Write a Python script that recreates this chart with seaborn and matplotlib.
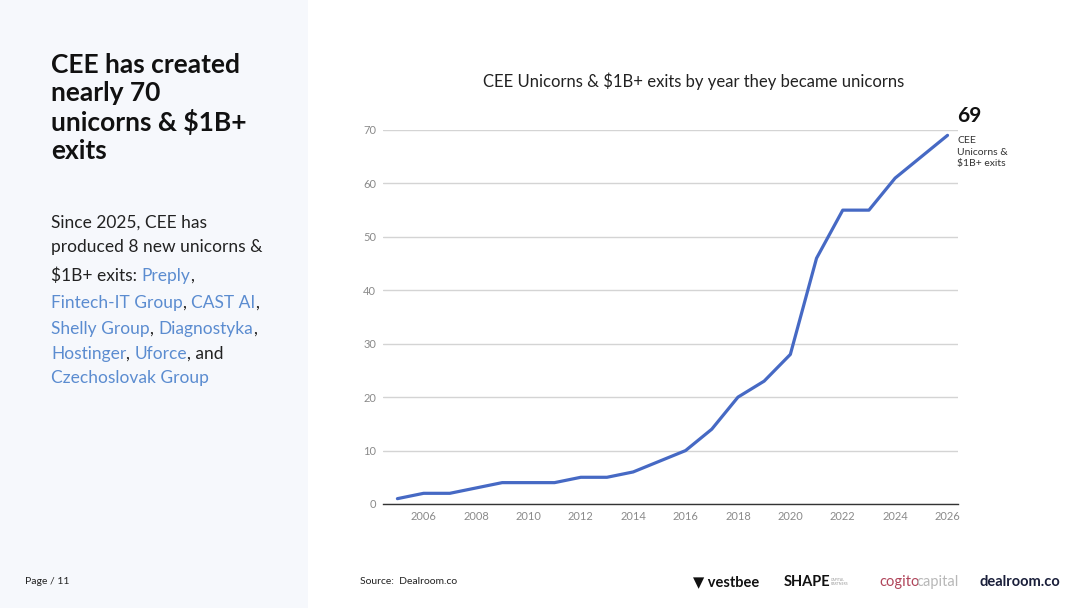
import numpy as np
import pandas as pd
import matplotlib
matplotlib.use("Agg")
import matplotlib.pyplot as plt
import seaborn as sns

# data
years = [2005, 2006, 2007, 2008, 2009, 2010, 2011, 2012, 2013, 2014, 2015,
         2016, 2017, 2018, 2019, 2020, 2021, 2022, 2023, 2024, 2025, 2026]
unicorns = [1, 2, 2, 3, 4, 4, 4, 5, 5, 6, 8,
            10, 14, 20, 23, 28, 46, 55, 55, 61, 65, 69]
x_ticks = [2006, 2008, 2010, 2012, 2014, 2016, 2018, 2020, 2022, 2024, 2026]
y_ticks = [0, 10, 20, 30, 40, 50, 60, 70]

df = pd.DataFrame({"year": years, "count": unicorns})

sns.set_theme(style="white")
plt.rcParams['font.family'] = ['Lato', 'DejaVu Sans']

fig = plt.figure(figsize=(10.8, 6.08), dpi=100)
fig.patch.set_facecolor("white")

# left light panel
fig.patches.append(plt.Rectangle((0, 0), 308 / 1080, 1, transform=fig.transFigure,
                                 facecolor="#f6f8fc", edgecolor="none", zorder=0))

ax = fig.add_axes([383 / 1080, 1 - 504 / 608, (958 - 383) / 1080, (504 - 130) / 608])
ax.set_facecolor("none")
sns.lineplot(data=df, x="year", y="count", ax=ax, color="#4669c4", linewidth=2.3)
ax.set_xlim(2004.45, 2026.4)
ax.set_ylim(0, 70)
ax.set_xticks(x_ticks)
ax.set_yticks(y_ticks)
ax.set_xticklabels([str(t) for t in x_ticks])
ax.tick_params(axis="both", labelsize=8, colors="#8a8a8a", length=0, pad=5)
ax.yaxis.grid(True, color="#d4d4d4", linewidth=1)
ax.set_xlabel("")
ax.set_ylabel("")
for s in ["top", "right", "left"]:
    ax.spines[s].set_visible(False)
ax.spines["bottom"].set_color("#333333")
ax.spines["bottom"].set_linewidth(1)

fig.text(694 / 1080, 1 - 81 / 608, "CEE Unicorns & $1B+ exits by year they became unicorns",
         ha="center", va="center", fontsize=12, color="#222222")

# end label
ax.annotate(str(unicorns[-1]), xy=(years[-1], unicorns[-1]), xytext=(7, 14),
            textcoords="offset points", fontsize=15, fontweight="bold",
            color="#111111", ha="left", va="center")
ax.annotate("CEE\nUnicorns &\n$1B+ exits", xy=(years[-1], unicorns[-1]), xytext=(7, -12),
            textcoords="offset points", fontsize=7.5, color="#333333",
            ha="left", va="center", linespacing=1.35)

# headline
fig.text(51 / 1080, 1 - 53 / 608, "CEE has created\nnearly 70\nunicorns & $1B+\nexits",
         ha="left", va="top", fontsize=19, fontweight="bold", color="#111111",
         linespacing=1.2)

# body text with coloured company names
dark = "#222222"
link = "#5b8cd0"
lines = [
    [("Since 2025, CEE has", dark)],
    [("produced 8 new unicorns &", dark)],
    [("$1B+ exits: ", dark), ("Preply", link), (",", dark)],
    [("Fintech-IT Group", link), (", ", dark), ("CAST AI", link), (",", dark)],
    [("Shelly Group", link), (", ", dark), ("Diagnostyka", link), (",", dark)],
    [("Hostinger", link), (", ", dark), ("Uforce", link), (", and", dark)],
    [("Czechoslovak Group", link)],
]
line_y = [223, 247, 276, 303, 329, 354, 378]
fig.canvas.draw()
renderer = fig.canvas.get_renderer()
for segs, yy in zip(lines, line_y):
    x0 = 51 / 1080
    for txt, col in segs:
        t = fig.text(x0, 1 - yy / 608, txt, ha="left", va="center",
                     fontsize=12.5, color=col)
        bb = t.get_window_extent(renderer=renderer)
        x0 += bb.width / fig.bbox.width

# footer
fig.text(25 / 1080, 1 - 582 / 608, "Page / 11", fontsize=7.5, color="#222222",
         ha="left", va="center")
fig.text(360 / 1080, 1 - 582 / 608, "Source:  Dealroom.co", fontsize=7.5, color="#222222",
         ha="left", va="center")
fig.text(693 / 1080, 1 - 582 / 608, "\u25bc vestbee", fontsize=10.5, fontweight="bold",
         color="#111111", ha="left", va="center")
fig.text(784 / 1080, 1 - 582 / 608, "SHAPE", fontsize=10.5, fontweight="bold",
         color="#111111", ha="left", va="center")
fig.text(831 / 1080, 1 - 582 / 608, "CAPITAL\nPARTNERS", fontsize=2.5,
         color="#999999", ha="left", va="center")
fig.text(879 / 1080, 1 - 582 / 608, "cogito", fontsize=10.5, color="#b0455a",
         ha="left", va="center")
fig.text(916 / 1080, 1 - 582 / 608, "capital", fontsize=10.5, color="#b8b8b8",
         ha="left", va="center")
fig.text(979 / 1080, 1 - 582 / 608, "dealroom.co", fontsize=10.5, fontweight="bold",
         color="#1a1f3a", ha="left", va="center")

fig.savefig("out.png", dpi=100, facecolor=fig.get_facecolor())
